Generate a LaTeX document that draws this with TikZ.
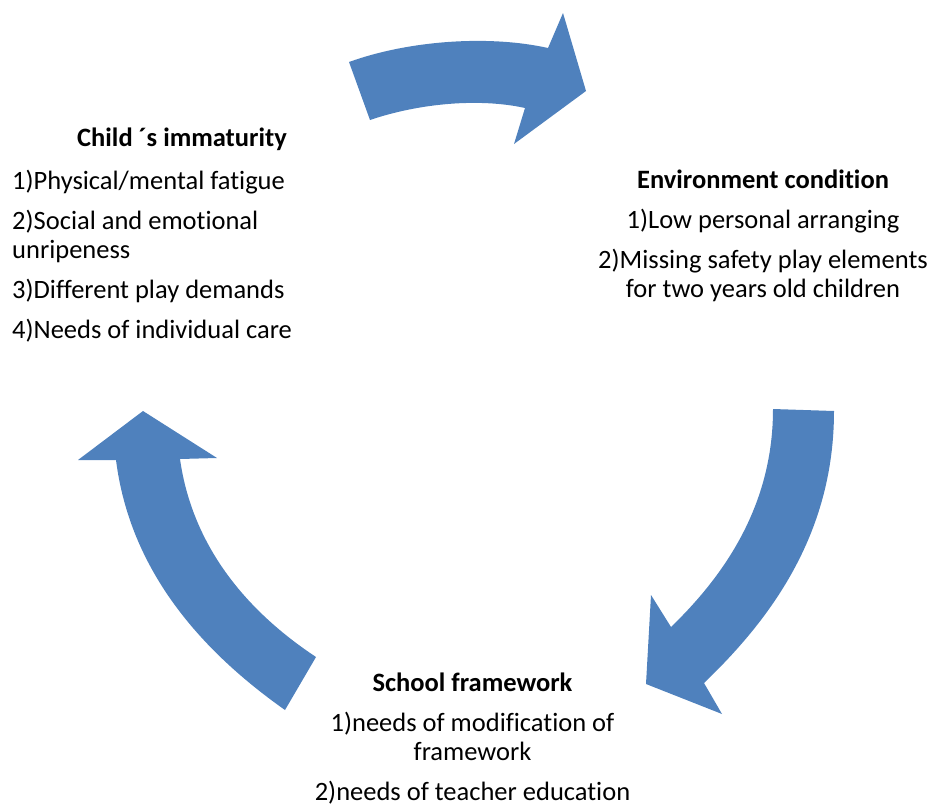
\documentclass[tikz,border=0pt]{standalone}
\usepackage{fontspec}
\setmainfont[Ligatures={NoCommon}]{Carlito}
\usepackage{tikz}
\definecolor{arrowblue}{RGB}{79,129,189}
\tikzstyle{blockarrow} = [fill=arrowblue, draw=none]
\tikzstyle{textblock} = [inner sep=0pt, font=\fontsize{26.5}{28.5}\selectfont]

\begin{document}
\begin{tikzpicture}[x=1pt, y=-1pt]
  \useasboundingbox (0,0) rectangle (934,803);
  \fill[blockarrow] (349,62) .. controls (410,40) and (490,35) .. (548,48) -- (563,13) -- (586,91) -- (514,144) -- (525,108) .. controls (480,98) and (420,103) .. (370,120) -- cycle;
  \fill[blockarrow] (773,409) -- (834,411) .. controls (834,530) and (775,615) .. (704,683) -- (722,714) -- (646,684) -- (651,595) -- (671,627) .. controls (730,570) and (773,500) .. (773,409) -- cycle;
  \fill[blockarrow] (285,710) .. controls (200,650) and (130,570) .. (116,460) -- (78,460) -- (143,411) -- (217,458) -- (180,459) .. controls (190,530) and (230,600) .. (316,657) -- cycle;
  \node[textblock, anchor=base] (childt) at (182,146) {\textbf{Child ´s immaturity}};
  \node[textblock, anchor=base west, align=left] (childb) at (12,338) {1)Physical/mental fatigue\\[11.5pt]2)Social and emotional\\unripeness\\[11.5pt]3)Different play demands\\[11.5pt]4)Needs of individual care};
  \node[textblock, anchor=base, align=center] (envb) at (763,297) {\textbf{Environment condition}\\[11.5pt]1)Low personal arranging\\[11.5pt]2)Missing safety play elements\\for two years old children};
  \node[textblock, anchor=base, align=center] (schoolb) at (472.5,800) {\textbf{School framework}\\[11.5pt]1)needs of modification of\\framework\\[11.5pt]2)needs of teacher education};
\end{tikzpicture}
\end{document}
